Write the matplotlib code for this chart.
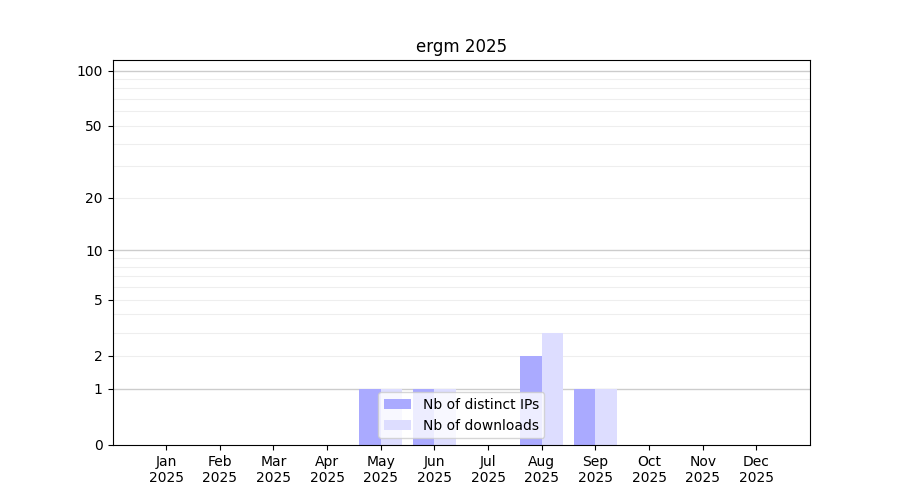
import numpy as np
import matplotlib
matplotlib.use('Agg')
import matplotlib.pyplot as plt

# ข้อมูลรายเดือน
months = ['Jan', 'Feb', 'Mar', 'Apr', 'May', 'Jun', 'Jul', 'Aug', 'Sep', 'Oct', 'Nov', 'Dec']
year = '2025'
distinct_ips = [0, 0, 0, 0, 1, 1, 0, 2, 1, 0, 0, 0]
downloads = [0, 0, 0, 0, 1, 1, 0, 3, 1, 0, 0, 0]
ytick_values = [0, 1, 2, 5, 10, 20, 50, 100]


def fwd(v):
    return np.log10(np.asarray(v, dtype=float) + 1)


def inv(v):
    return 10 ** np.asarray(v, dtype=float) - 1


fig, ax = plt.subplots(figsize=(9, 5), dpi=100)
ax.set_yscale('function', functions=(fwd, inv))

x = np.arange(len(months))
width = 0.4

# เส้นกริด
for decade in [1, 10, 100]:
    ax.axhline(decade, color='#cccccc', linewidth=1, zorder=0)
    for k in range(2, 10):
        if decade * k <= 110:
            ax.axhline(decade * k, color='#eeeeee', linewidth=0.8, zorder=0)

ax.bar(x - width / 2, distinct_ips, width, color='#aaaaff', label='Nb of distinct IPs', zorder=2)
ax.bar(x + width / 2, downloads, width, color='#ddddff', label='Nb of downloads', zorder=2)

ax.set_xlim(-1, 12)
ax.set_ylim(0, 114)
ax.set_xticks(x)
ax.set_xticklabels([f'{m}\n{year}' for m in months])
ax.set_yticks(ytick_values)
ax.set_yticklabels([str(v) for v in ytick_values])
ax.minorticks_off()
ax.set_title('ergm 2025')
ax.legend(loc='lower center')

plt.savefig('out.png', dpi=100)
